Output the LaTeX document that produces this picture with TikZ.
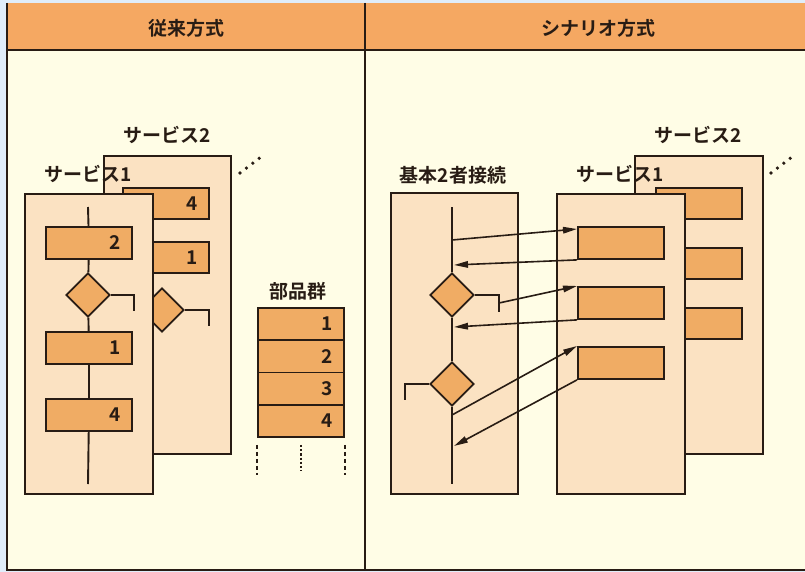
\documentclass[tikz,border=0pt]{standalone}
\usepackage{fontspec}
\newfontfamily\jpf{Noto Sans CJK JP Bold}
\usetikzlibrary{shapes.geometric,arrows.meta,calc}
\definecolor{hdr}{RGB}{245,168,98}
\definecolor{bgc}{RGB}{255,253,230}
\definecolor{pnl}{RGB}{251,226,194}
\definecolor{boxc}{RGB}{240,172,100}
\definecolor{ink}{RGB}{40,28,20}
\definecolor{edgec}{RGB}{224,237,250}
\begin{document}
\begin{tikzpicture}[x=1pt,y=-1pt,
  frame/.style={draw=ink, fill=pnl, line width=1.9pt, anchor=north west, inner sep=0pt},
  pbox/.style={draw=ink, fill=boxc, line width=1.9pt, anchor=north west, inner sep=0pt, minimum width=86pt, minimum height=32pt},
  dia/.style={diamond, draw=ink, fill=boxc, line width=1.9pt, inner sep=0pt, minimum size=44pt},
  flow/.style={draw=ink, line width=1.9pt},
  lbl/.style={font=\jpf\fontsize{19}{22}\selectfont, text=ink, inner sep=0pt},
  num/.style={font=\jpf\fontsize{19}{18}\selectfont, text=ink, inner sep=0pt, anchor=east},
  arr/.style={draw=ink, line width=1.6pt, -{Triangle[length=14pt,width=6.5pt]}},
  dotc/.style={fill=ink, draw=none}]
\useasboundingbox (0,0) rectangle (805,572);
% background
\fill[edgec] (0,0) rectangle (805,572);
\fill[bgc] (7,3) rectangle (805,570);
\fill[hdr] (7,3) rectangle (805,50);
\draw[ink, line width=2pt] (7,3) -- (7,570) -- (805,570);
\draw[ink, line width=2pt] (7,50) -- (805,50);
\draw[ink, line width=2.2pt] (365,3) -- (365,570);
\node[lbl] (h1) at (186,28) {従来方式};
\node[lbl] (h2) at (598,28) {シナリオ方式};

% ===== left panel: service 2 =====
\node[frame, minimum width=127pt, minimum height=298pt] (LS2) at (103,155) {};
\node[pbox, minimum height=31pt] (L2b4) at (122,187) {};
\node[num] at ($(L2b4.east)+(-12,0)$) {4};
\node[pbox, minimum height=31pt] (L2b1) at (122,241) {};
\node[num] at ($(L2b1.east)+(-12,0)$) {1};
\node[dia] (L2d) at (162,310) {};
\coordinate (L2br) at (209,326);
\draw[flow] (L2d.east) -| (L2br);

% ===== left panel: service 1 =====
\node[frame, minimum width=128pt, minimum height=300pt] (LS1) at (24,193) {};
\coordinate (L1top) at (88,207);
\coordinate (L1bot) at (88,484);
\node[pbox] (L1b2) at (45,226) {};
\node[dia] (L1d) at (88,295) {};
\node[pbox] (L1b1) at (45,331) {};
\node[pbox] (L1b4) at (45,398) {};
\draw[flow] (L1top) -- (L1b2);
\draw[flow] (L1b2) -- (L1d);
\draw[flow] (L1d) -- (L1b1);
\draw[flow] (L1b1) -- (L1b4);
\draw[flow] (L1b4) -- (L1bot);
\coordinate (L1br) at (134,311);
\draw[flow] (L1d.east) -| (L1br);
\node[num] at ($(L1b2.east)+(-12,0)$) {2};
\node[num] at ($(L1b1.east)+(-12,0)$) {1};
\node[num] at ($(L1b4.east)+(-12,0)$) {4};

\node[lbl] (tL2) at (167,135) {サービス2};
\node[lbl] (tL1) at (88,174) {サービス1};
\foreach \i in {0,1,2,3} \fill[dotc] ($(240,173)+(\i*6.4,-\i*4.9)$) circle (1.8pt);

% ===== parts group =====
\node[lbl] (tP) at (298,291) {部品群};
\foreach \i in {1,2,3,4} {
  \node[pbox, minimum height=32.25pt] (P\i) at (257,{307+(\i-1)*32.25}) {};
  \node[num] at ($(P\i.east)+(-12,0)$) {\i};
}
\draw[ink, line width=1.8pt, dash pattern=on 4pt off 3pt] ($(P4.south west)+(0,7)$) -- ++(0,30);
\draw[ink, line width=1.8pt, dash pattern=on 4pt off 3pt] ($(P4.south east)+(0,7)$) -- ++(0,30);
\draw[ink, line width=2.6pt, dash pattern=on 2.2pt off 2pt] ($(P4.south)+(0,7)$) -- ++(0,26);

% ===== right panel: basic 2-party =====
\node[lbl] (tB) at (453,175) {基本2者接続};
\node[frame, minimum width=127pt, minimum height=301pt] (BF) at (390,192) {};
\coordinate (Btop) at (452,207);
\coordinate (Bbot) at (452,484);
\node[dia] (Bd1) at (452,295) {};
\node[dia] (Bd2) at (452,384) {};
\draw[flow] (Btop) -- (Bd1);
\draw[flow] (Bd1) -- (Bd2);
\draw[flow] (Bd2) -- (Bbot);
\coordinate (Bbr1) at (499,312);
\coordinate (Bbr2) at (405,400);
\draw[flow] (Bd1.east) -| (Bbr1);
\draw[flow] (Bd2.west) -| (Bbr2);

% ===== right panel: service 2 =====
\node[lbl] (tR2) at (698,135) {サービス2};
\node[frame, minimum width=128pt, minimum height=298pt] (RS2) at (634,155) {};
\node[pbox, minimum height=31pt] (R2a) at (655,187) {};
\node[pbox, minimum height=31pt] (R2b) at (655,247) {};
\node[pbox, minimum height=31pt] (R2c) at (655,307) {};
\foreach \i in {0,1,2,3} \fill[dotc] ($(771,173)+(\i*6.4,-\i*4.9)$) circle (1.8pt);

% ===== right panel: service 1 =====
\node[frame, minimum width=128pt, minimum height=300pt] (RS1) at (556,193) {};
\node[pbox] (RA) at (577,226) {};
\node[pbox] (RB) at (577,286) {};
\node[pbox] (RC) at (577,346) {};
\node[lbl] (tR1) at (620,174) {サービス1};

% ===== arrows =====
\coordinate (s1) at (452,240);
\coordinate (e2) at (454,265);
\coordinate (s3) at (499,303);
\coordinate (e4) at (454,327);
\coordinate (s5) at (452,415);
\coordinate (e6) at (454,446);
\draw[arr] (s1) -- ($(RA.north west)+(0,3)$);
\draw[arr] (RA.south west) -- (e2);
\draw[arr] (s3) -- (RB.north west);
\draw[arr] (RB.south west) -- (e4);
\draw[arr] (s5) -- (RC.north west);
\draw[arr] (RC.south west) -- (e6);
\end{tikzpicture}
\end{document}
